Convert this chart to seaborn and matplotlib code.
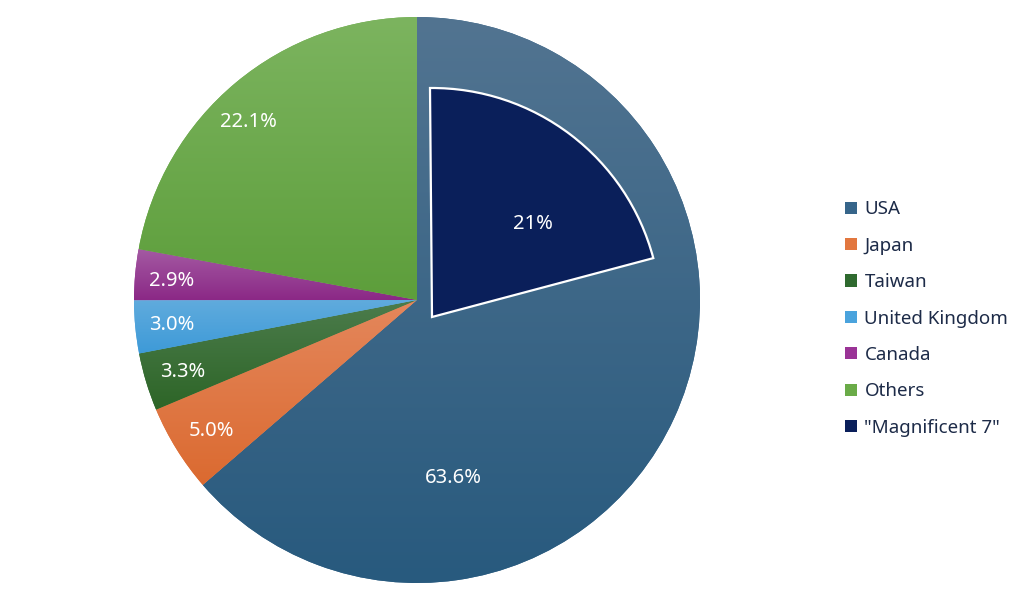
import numpy as np
import matplotlib
matplotlib.use("Agg")
import matplotlib.pyplot as plt
import matplotlib.colors as mcolors
from matplotlib.patches import Patch
import seaborn as sns

# ---- data ----
countries = ["USA", "Japan", "Taiwan", "United Kingdom", "Canada", "Others"]
shares = [63.6, 5.0, 3.3, 3.0, 2.9, 22.1]
share_labels = ["63.6%", "5.0%", "3.3%", "3.0%", "2.9%", "22.1%"]
mag7_name = '"Magnificent 7"'
mag7_share = 21
mag7_label = "21%"

# ---- style ----
sns.set_theme(style="white")
plt.rcParams["font.family"] = ["Noto Sans", "DejaVu Sans"]

grad_top = ["#527491", "#e4875c", "#4c7c4c", "#60abdd", "#a45ba3", "#7cb45f"]
grad_bot = ["#285a7e", "#db6a30", "#2d6527", "#3d9ad8", "#8b2886", "#5d9e3b"]
legend_cols = ["#36658a", "#e2773f", "#2f6a2f", "#4aa3dd", "#9a3396", "#6aab48"]
mag7_col = "#0a1f5a"

W, H = 1024, 602
fig = plt.figure(figsize=(W / 100, H / 100), dpi=100)
ax = fig.add_axes([0, 0, 1, 1])

R = 283.0
cx, cy = 417.0, 300.0


def px(x, y):
    return (x - cx) / R, (cy - y) / R


wedges, _ = ax.pie(shares, startangle=90, counterclock=False, radius=1.0,
                   colors=legend_cols, wedgeprops=dict(linewidth=0))

for w, ct, cb in zip(wedges, grad_top, grad_bot):
    ext = w.get_path().get_extents()
    c1 = np.array(mcolors.to_rgb(ct))
    c2 = np.array(mcolors.to_rgb(cb))
    t = np.linspace(0, 1, 256)[:, None]
    img = (c1[None, :] * (1 - t) + c2[None, :] * t)[:, None, :]
    im = ax.imshow(img, extent=(ext.x0, ext.x1, ext.y0, ext.y1),
                   origin="upper", aspect="auto", interpolation="bilinear",
                   zorder=w.get_zorder() + 0.1)
    im.set_clip_path(w)

# exploded "Magnificent 7" wedge
mcx, mcy = px(432, 317)
mw, _ = ax.pie([mag7_share, 100 - mag7_share], startangle=90.5, counterclock=False,
               radius=229 / R, center=(mcx, mcy),
               colors=[mag7_col, "none"],
               wedgeprops=dict(linewidth=1.6, edgecolor="white"))
mw[1].set_visible(False)
for w in mw:
    w.set_zorder(5)

# labels
label_pos = [(453, 478), (211, 431), (183, 372), (172, 325), (172, 281), (248, 122)]
for lab, (x, y) in zip(share_labels, label_pos):
    ax.text(*px(x, y), lab, color="white", fontsize=14.5, ha="center", va="center", zorder=6)
ax.text(*px(533, 224), mag7_label, color="white", fontsize=14.5, ha="center", va="center", zorder=6)

ax.set_xlim(-cx / R, (W - cx) / R)
ax.set_ylim(-(H - cy) / R, cy / R)
ax.set_aspect("auto")
ax.axis("off")

handles = [Patch(facecolor=c, edgecolor="none") for c in legend_cols] + \
          [Patch(facecolor=mag7_col, edgecolor="none")]
labels = countries + [mag7_name]
leg = fig.legend(handles, labels, loc="center left",
                 bbox_to_anchor=(845 / W, 1 - 318.5 / H),
                 frameon=False, fontsize=13.5, handlelength=0.62, handleheight=0.62,
                 handletextpad=0.42, labelspacing=0.98, borderpad=0, borderaxespad=0)
for t in leg.get_texts():
    t.set_color("#1d2b48")

fig.savefig("out.png", dpi=100, facecolor="white")
